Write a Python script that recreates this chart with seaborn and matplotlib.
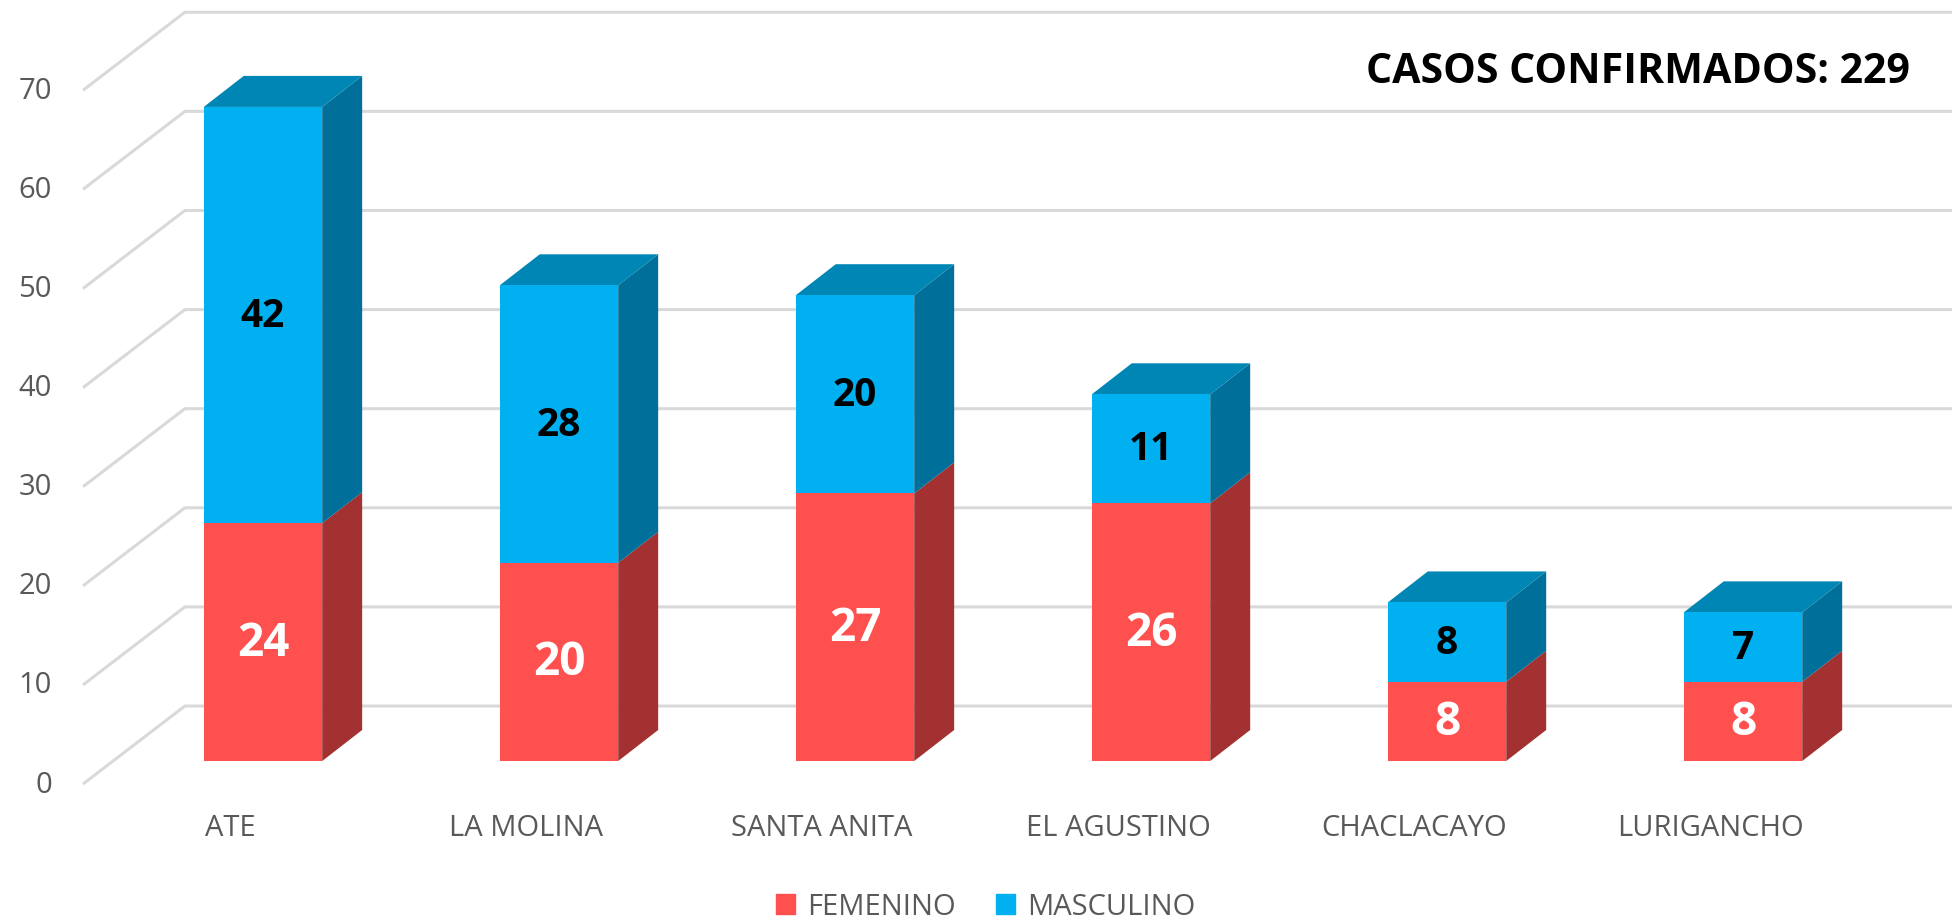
import matplotlib
matplotlib.use("Agg")
import matplotlib.pyplot as plt
from matplotlib.patches import Patch
import seaborn as sns

sns.set_style("white")
plt.rcParams['font.family'] = ['Open Sans', 'DejaVu Sans']

# data
distritos = ["ATE", "LA MOLINA", "SANTA ANITA", "EL AGUSTINO", "CHACLACAYO", "LURIGANCHO"]
femenino = [24, 20, 27, 26, 8, 8]
masculino = [42, 28, 20, 11, 8, 7]
yticks = [0, 10, 20, 30, 40, 50, 60, 70]
titulo = "CASOS CONFIRMADOS: 229"

total = [f + m for f, m in zip(femenino, masculino)]

red, red_side = "#FF5050", "#A33131"
blue, blue_top, blue_side = "#00B0F0", "#0086B4", "#006F99"
grid_c = "#D9D9D9"
txt_c = "#595959"

fig = plt.figure(figsize=(19.52, 9.2), dpi=100)
ax = fig.add_axes([0, 0, 1, 1])

# front faces (stacked): total in blue, femenino over it in red
bw = 0.4
sns.barplot(x=distritos, y=total, color=blue, saturation=1, width=bw,
            linewidth=0, ax=ax, zorder=3)
sns.barplot(x=distritos, y=femenino, color=red, saturation=1, width=bw,
            linewidth=0, ax=ax, zorder=3)

ax.set_xlim(-0.8885, 5.706)
ax.set_ylim(-15.94, 76.89)
ax.axis("off")

# fake 3d: depth offset of bars, back wall and front edge (data units)
ddx, ddy = 0.135, 3.13
wall_x = -0.507
back_dx, back_dy = 0.243, 5.55
front_dx, front_dy = -0.101, -2.32

for v in yticks:
    ax.plot([wall_x + front_dx, wall_x + back_dx, 5.8],
            [v + front_dy, v + back_dy, v + back_dy],
            color=grid_c, lw=2.2, zorder=1, solid_capstyle="butt")
    ax.text(-0.713, v + front_dy, str(v), ha="right", va="center",
            fontsize=21, color=txt_c)

for i, (f, t) in enumerate(zip(femenino, total)):
    xl, xr = i - bw / 2, i + bw / 2
    # right side faces
    ax.fill([xr, xr + ddx, xr + ddx, xr], [0, ddy, f + ddy, f],
            color=red_side, lw=0, zorder=2)
    ax.fill([xr, xr + ddx, xr + ddx, xr], [f, f + ddy, t + ddy, t],
            color=blue_side, lw=0, zorder=2)
    # top face
    ax.fill([xl, xl + ddx, xr + ddx, xr], [t, t + ddy, t + ddy, t],
            color=blue_top, lw=0, zorder=2)
    # value labels
    ax.text(i, f / 2, str(femenino[i]), ha="center", va="center",
            fontsize=33, fontweight="bold", color="white", zorder=4)
    ax.text(i, f + masculino[i] / 2, str(masculino[i]), ha="center", va="center",
            fontsize=28, fontweight="bold", color="black", zorder=4)
    # category label
    ax.text(i - 0.111, -6.66, distritos[i], ha="center", va="center",
            fontsize=21, color=txt_c)

fig.text(0.9785, 0.9217, titulo, ha="right", va="center",
         fontsize=29.6, fontweight="bold", color="black")

handles = [Patch(color=red, label="FEMENINO"), Patch(color=blue, label="MASCULINO")]
leg = fig.legend(handles=handles, loc="lower center", bbox_to_anchor=(0.505, -0.031),
                 ncol=2, frameon=False, fontsize=21, handlelength=0.65,
                 handleheight=0.65, handletextpad=0.4, columnspacing=1.4)
for t in leg.get_texts():
    t.set_color(txt_c)

fig.savefig("out.png", dpi=100, facecolor="white")
